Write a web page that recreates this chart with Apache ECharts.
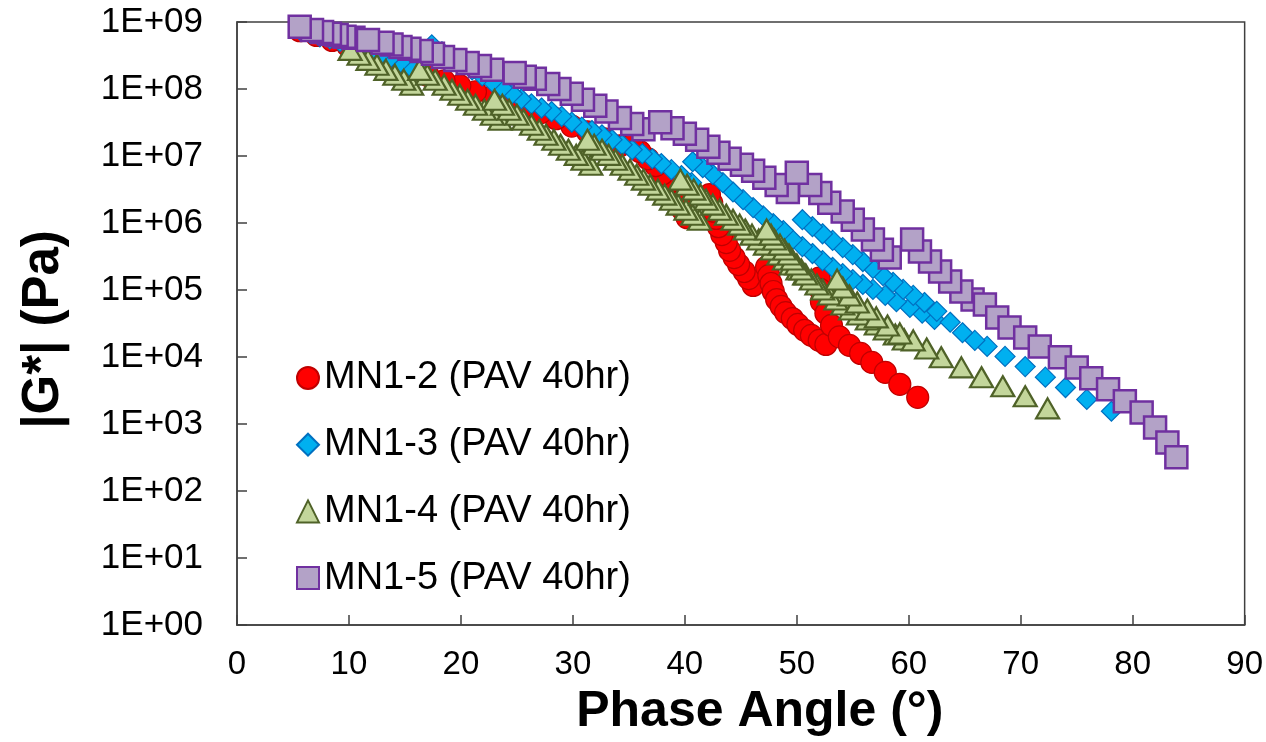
<!DOCTYPE html>
<html>
<head>
<meta charset="utf-8">
<script src="https://cdn.jsdelivr.net/npm/echarts@6/dist/echarts.min.js"></script>
<style>
  html, body { margin: 0; padding: 0; background: #ffffff; }
  #chart { width: 1266px; height: 742px; }
</style>
</head>
<body>
<div id="chart"></div>
<script>
// Black-space data: phase angle (deg) vs |G*| (Pa), one array per sample.
// Points of each temperature sweep are listed in drawing order.
const seriesNames = ['MN1-2 (PAV 40hr)', 'MN1-3 (PAV 40hr)', 'MN1-4 (PAV 40hr)', 'MN1-5 (PAV 40hr)'];

const mn12 = [
  [34.2,1.42e7],[32.8,1.8e7],[31.3,2.3e7],[29.9,2.8e7],[28.5,3.6e7],[27.1,4.4e7],[25.6,5.4e7],[24.2,6.4e7],
  [22.8,7.7e7],[21.3,9.1e7],[19.9,1.12e8],[18.5,1.32e8],[17.1,1.57e8],[15.6,1.95e8],[14.2,2.5e8],[12.8,3.0e8],
  [11.3,3.7e8],[9.9,4.4e8],[8.5,5.3e8],[7.1,6.3e8],[5.6,7.4e8],
  [40.2,1.2e6],[39.8,1.58e6],[39.5,2.1e6],[39.0,2.9e6],[38.6,4.0e6],[38.0,5.4e6],[37.4,7.2e6],[36.7,9.1e6],
  [36.0,1.16e7],[35.3,1.47e7],
  [46.1,1.17e5],[45.7,1.48e5],[45.3,1.89e5],[44.8,2.4e5],[44.4,3.05e5],[44.0,3.9e5],[43.7,5.1e5],[43.3,6.7e5],
  [43.0,8.8e5],[42.8,1.17e6],[42.6,1.5e6],[42.4,2.0e6],[42.2,2.65e6],
  [47.3,2.2e5],[47.5,1.64e5],[47.7,1.25e5],[47.9,9.5e4],[48.2,7.2e4],[48.6,5.7e4],[49.0,4.6e4],[49.6,3.75e4],
  [50.1,3.06e4],[50.7,2.5e4],[51.3,2.1e4],[52.0,1.77e4],[52.6,1.54e4],
  [52.0,1.5e5],[52.1,1.02e5],[52.2,6.7e4],[52.6,4.5e4],[53.1,2.96e4],[53.8,2.0e4],[54.7,1.49e4],[55.7,1.13e4],
  [56.7,8.3e3],[57.9,5.9e3],[59.2,3.91e3],[60.8,2.5e3]
];

const mn13 = [
  [16.3,1.93e8],[15.4,2.2e8],[14.6,2.5e8],[13.7,2.9e8],[12.8,3.24e8],[11.9,3.6e8],[11.0,4.1e8],[10.1,4.56e8],
  [9.2,5.1e8],[8.3,5.6e8],[7.4,6.0e8],[6.5,6.9e8],[5.6,7.6e8],
  [40.6,4.0e6],[39.7,5.1e6],[38.8,6.25e6],[37.9,7.7e6],[37.1,9.1e6],[36.2,1.08e7],[35.3,1.24e7],[34.4,1.47e7],
  [33.5,1.75e7],[32.6,2.07e7],[31.7,2.4e7],[30.8,2.7e7],[29.9,3.2e7],[29.0,3.9e7],[28.1,4.6e7],[27.2,5.2e7],
  [26.3,6.0e7],[25.4,7.1e7],[24.6,8.5e7],[23.7,1.04e8],[22.8,1.28e8],[21.9,1.57e8],[21.0,1.93e8],[20.1,2.4e8],
  [19.2,2.9e8],[18.3,3.6e8],[17.4,4.56e8],
  [62.3,3.63e4],[61.2,4.5e4],[60.1,5.5e4],[58.9,6.7e4],[57.9,8.3e4],[56.8,1.02e5],[55.9,1.21e5],[55.0,1.43e5],
  [54.1,1.76e5],[53.2,2.17e5],[52.3,2.75e5],[51.4,3.5e5],[50.5,4.45e5],[49.6,5.66e5],[48.8,7.7e5],[47.9,9.8e5],
  [47.0,1.28e6],[46.1,1.7e6],[45.2,2.23e6],[44.3,2.9e6],[43.4,4.0e6],[42.5,5.3e6],[41.6,6.7e6],[40.7,8.2e6],
  [78.1,1.55e3],[75.9,2.33e3],[74.0,3.5e3],[72.2,5.0e3],[70.4,7.2e3],[68.6,1.02e4],[67.0,1.44e4],[65.9,1.77e4],
  [64.8,2.3e4],[63.7,3.3e4],[62.5,4.8e4],[61.4,6.5e4],[60.4,8.3e4],[59.5,1.02e5],[58.6,1.3e5],[57.7,1.64e5],
  [56.8,2.1e5],[55.9,2.66e5],[55.0,3.38e5],[54.1,4.3e5],[53.2,5.5e5],[52.3,6.9e5],[51.4,8.8e5],[50.5,1.12e6]
];

const mn14 = [
  [15.6,1.16e8],[14.9,1.37e8],[14.1,1.63e8],[13.3,1.93e8],[12.5,2.3e8],[11.7,2.72e8],[10.9,3.24e8],[10.1,3.84e8],
  [23.5,3.48e7],[22.8,4.12e7],[22.1,4.9e7],[21.3,5.82e7],[20.6,6.9e7],[19.9,8.2e7],[19.2,9.72e7],[18.5,1.16e8],
  [17.7,1.37e8],[17.0,1.63e8],[16.3,1.93e8],
  [31.6,7.41e6],[30.9,8.81e6],[30.3,1.04e7],[29.6,1.24e7],[28.9,1.47e7],[28.3,1.75e7],[27.6,2.07e7],[27.0,2.47e7],
  [26.3,2.92e7],[25.6,3.48e7],[25.0,4.12e7],[24.3,4.9e7],[23.7,5.82e7],[23.0,6.9e7],
  [41.3,1.12e6],[40.7,1.33e6],[40.1,1.58e6],[39.4,1.88e6],[38.8,2.23e6],[38.2,2.65e6],[37.6,3.15e6],[36.9,3.73e6],
  [36.3,4.44e6],[35.7,5.26e6],[35.1,6.25e6],[34.4,7.41e6],[33.8,8.81e6],[33.2,1.04e7],[32.6,1.24e7],[31.9,1.47e7],
  [31.3,1.75e7],
  [50.7,1.7e5],[50.1,2.02e5],[49.5,2.4e5],[48.9,2.85e5],[48.4,3.38e5],[47.8,4.02e5],[47.2,4.76e5],[46.6,5.66e5],
  [46.0,6.71e5],[45.4,7.98e5],[44.9,9.46e5],[44.3,1.12e6],[43.7,1.33e6],[43.1,1.58e6],[42.5,1.88e6],[41.9,2.23e6],
  [41.4,2.65e6],[40.8,3.15e6],[40.2,3.73e6],[39.6,4.44e6],
  [59.6,1.83e4],[58.8,2.17e4],[57.9,2.58e4],[57.1,3.06e4],[56.3,3.63e4],[55.5,4.32e4],[54.8,5.12e4],[54.1,6.08e4],
  [53.5,7.21e4],[52.9,8.57e4],[52.3,1.02e5],[51.8,1.21e5],[51.3,1.43e5],[50.8,1.7e5],[50.4,2.02e5],[50.0,2.4e5],
  [49.6,2.85e5],[49.3,3.38e5],[48.9,4.02e5],[48.5,4.76e5],[48.0,5.66e5],[47.7,6.71e5],[47.3,7.98e5],
  [72.4,1.71e3],[70.4,2.6e3],[68.4,3.65e3],[66.5,5.0e3],[64.7,7.0e3],[62.9,9.9e3],[61.6,1.34e4],[60.4,1.77e4],
  [59.2,2.25e4],[58.1,2.96e4],[57.1,3.9e4],[56.3,5.12e4],[55.4,6.5e4],[54.7,8.28e4],[54.1,1.09e5],[53.6,1.43e5]
];

const mn15 = [
  [10.4,5.8e8],[9.6,6.0e8],[8.9,6.4e8],[8.3,6.7e8],[7.6,7.1e8],[6.7,7.6e8],[5.6,8.5e8],
  [22.8,1.93e8],[21.7,2.2e8],[20.6,2.45e8],[19.5,2.7e8],[18.4,3.0e8],[17.5,3.35e8],[16.5,3.7e8],[15.4,4.0e8],
  [14.6,4.25e8],[13.8,4.6e8],[13.0,4.9e8],[11.7,5.4e8],
  [36.3,2.5e7],[35.3,3.0e7],[34.2,3.7e7],[33.0,4.6e7],[32.0,5.6e7],[30.9,6.9e7],[29.9,8.5e7],[28.8,1.0e8],
  [27.8,1.19e8],[26.6,1.42e8],[25.7,1.52e8],[24.8,1.74e8],
  [49.2,2.9e6],[48.2,3.7e6],[47.1,4.75e6],[46.1,6.0e6],[45.1,7.4e6],[44.0,9.1e6],[43.0,1.12e7],[42.1,1.38e7],
  [41.1,1.75e7],[40.0,2.15e7],[38.9,2.6e7],[37.8,3.2e7],
  [58.3,3.05e5],[57.6,4.0e5],[56.8,5.66e5],[55.9,8.0e5],[55.0,1.12e6],[54.1,1.48e6],[52.9,2.0e6],[52.1,2.8e6],
  [51.2,3.7e6],[50.0,5.6e6],
  [65.7,7.2e4],[64.7,9.5e4],[63.7,1.34e5],[62.8,1.89e5],[61.9,2.66e5],[61.0,3.75e5],[60.3,5.66e5],
  [66.8,6.1e4],[67.9,3.9e4],[69.0,2.76e4],[70.4,1.96e4],[71.7,1.44e4],[73.5,9.9e3],[75.0,7.0e3],[76.3,4.8e3],
  [77.8,3.3e3],[79.3,2.18e3],[80.8,1.49e3],[82.0,8.9e2],[83.1,5.3e2],[83.9,3.2e2]
];

const phaseMin = 0, phaseMax = 90, phaseStep = 10;
const modulusMin = 1, modulusMax = 1e9;

// "1E+05" style exponent labels for the log axis
function sciLabel(v) {
  const e = Math.round(Math.log10(v));
  return '1E+' + String(e).padStart(2, '0');
}

const styles = [
  { symbol: 'circle',   size: 22,       color: '#FF0000', border: '#C00000', bw: 1.2 },
  { symbol: 'diamond',  size: [20, 20], color: '#00B0F0', border: '#0070C0', bw: 1.2 },
  { symbol: 'triangle', size: [23, 20], color: '#C3D69B', border: '#4F6228', bw: 2.2 },
  { symbol: 'rect',     size: 22,       color: '#B3A2C7', border: '#7030A0', bw: 2.5 }
];
const datasets = [mn12, mn13, mn14, mn15];

const chart = echarts.init(document.getElementById('chart'), null, { renderer: 'canvas' });
const font = '"Liberation Sans", Arial, sans-serif';

chart.setOption({
  animation: false,
  backgroundColor: '#ffffff',
  grid: {
    left: 237, right: 21, top: 22, bottom: 115,
    show: true, borderColor: '#404040', borderWidth: 1.5
  },
  legend: {
    orient: 'vertical',
    left: 291, top: 354,
    itemWidth: 22, itemHeight: 22, itemGap: 28.7,
    data: seriesNames,
    textStyle: { fontFamily: font, fontSize: 38, color: '#000', lineHeight: 38 }
  },
  xAxis: {
    type: 'value',
    min: phaseMin, max: phaseMax, interval: phaseStep,
    name: 'Phase Angle (°)',
    nameLocation: 'middle', nameGap: 62,
    nameTextStyle: { fontFamily: font, fontWeight: 'bold', fontSize: 50, color: '#000', padding: [0, 0, 0, 38] },
    axisLine: { show: true, lineStyle: { color: '#404040', width: 1.5 } },
    axisTick: { show: true, inside: true, length: 10, lineStyle: { color: '#404040', width: 1.5 } },
    axisLabel: { fontFamily: font, fontSize: 33, color: '#000', margin: 23 },
    splitLine: { show: false }
  },
  yAxis: {
    type: 'log', logBase: 10,
    min: modulusMin, max: modulusMax, splitNumber: 9,
    name: '|G*| (Pa)',
    nameLocation: 'middle', nameGap: 168,
    nameTextStyle: { fontFamily: font, fontWeight: 'bold', fontSize: 51, color: '#000', padding: [0, 12, 0, 0] },
    axisLine: { show: true, lineStyle: { color: '#404040', width: 1.5 } },
    axisTick: { show: true, inside: true, length: 10, lineStyle: { color: '#404040', width: 1.5 } },
    axisLabel: { fontFamily: font, fontSize: 35, color: '#000', margin: 34, formatter: sciLabel },
    splitLine: { show: false },
    minorTick: { show: false }
  },
  series: datasets.map((d, i) => ({
    name: seriesNames[i],
    type: 'scatter',
    data: d,
    symbol: styles[i].symbol,
    symbolSize: styles[i].size,
    z: 2 + i,
    itemStyle: {
      color: styles[i].color,
      borderColor: styles[i].border,
      borderWidth: styles[i].bw,
      opacity: 1
    },
    emphasis: { disabled: true }
  }))
});
</script>
</body>
</html>
